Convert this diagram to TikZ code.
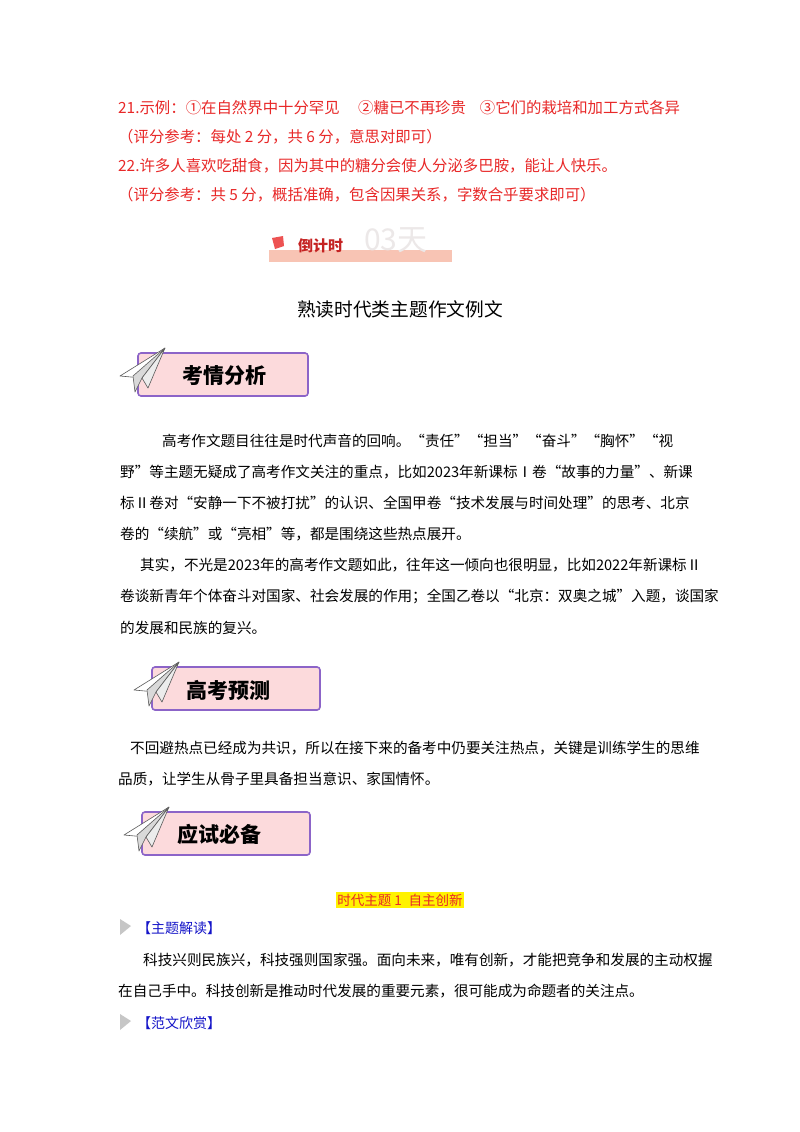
\documentclass[tikz,border=0pt]{standalone}
\usepackage{fontspec}
\setmainfont{Liberation Serif}
\newfontfamily\cjk{Noto Sans CJK SC}
\definecolor{ansred}{RGB}{232,40,40}
\definecolor{boxpink}{RGB}{252,218,220}
\definecolor{boxline}{RGB}{140,100,200}
\definecolor{navy}{RGB}{20,20,200}
\definecolor{peach}{RGB}{248,196,180}
\definecolor{faint}{RGB}{236,232,232}
\tikzset{
  red/.style={anchor=west,inner sep=0,text=ansred,font=\cjk\fontsize{15.4}{16}\selectfont},
  body/.style={anchor=west,inner sep=0,font=\cjk\fontsize{14.6}{15}\selectfont},
  hdrbox/.style={draw=boxline,line width=1.6pt,fill=boxpink,rounded corners=3pt},
  hdrtxt/.style={anchor=west,inner sep=0,font=\cjk\bfseries\fontsize{21}{22}\selectfont},
  plane/.style={fill=white,draw=gray!70!black,line width=0.6pt,line join=round}
}
\newcommand{\myplane}[1]{%
  \begin{scope}[shift={#1}]
    \path[plane] (45,0) -- (0,28) -- (22,30) -- cycle;
    \path[plane,fill=gray!30] (45,0) -- (22,30) -- (15,44) -- (13,28) -- cycle;
    \path[plane,fill=gray!15] (45,0) -- (28,40) -- (22,30) -- cycle;
  \end{scope}}
\begin{document}
\begin{tikzpicture}[x=1pt,y=-1pt]
\useasboundingbox (0,0) rectangle (800,1132);
\fill[white] (0,0) rectangle (800,1132);
% red answers
\node[red] (r1) at (118,108) {21.示例：①在自然界中十分罕见\hspace{1.2em}②糖已不再珍贵\hspace{0.9em}③它们的栽培和加工方式各异};
\node[red] (r2) at (118,137) {（评分参考：每处 2 分，共 6 分，意思对即可）};
\node[red] (r3) at (118,166) {22.许多人喜欢吃甜食，因为其中的糖分会使人分泌多巴胺，能让人快乐。};
\node[red] (r4) at (118,195) {（评分参考：共 5 分，概括准确，包含因果关系，字数合乎要求即可）};
% countdown banner
\fill[peach] (269,250) rectangle (452,262);
\fill[ansred!80] (272,238) -- (283,236) -- (284,246) -- (275,249) -- cycle;
\node[anchor=west,inner sep=0,text=ansred!85!black,font=\cjk\bfseries\fontsize{15}{15}\selectfont] (cd) at (298,246) {倒计时};
\node[anchor=west,inner sep=0,text=faint,font=\cjk\fontsize{30}{30}\selectfont] (cd2) at (364,240) {03天};
% title
\node[inner sep=0,font=\cjk\fontsize{18.7}{19}\selectfont] (title) at (400,309) {熟读时代类主题作文例文};
% header 1
\draw[hdrbox] (138,353) rectangle (308,396);
\myplane{(120,348)}
\node[hdrtxt] (h1) at (182,376) {考情分析};
\node[body] (p1) at (162,441) {高考作文题目往往是时代声音的回响。“责任”“担当”“奋斗”“胸怀”“视};
\node[body] (p2) at (120,472) {野”等主题无疑成了高考作文关注的重点，比如2023年新课标Ⅰ卷“故事的力量”、新课};
\node[body] (p3) at (120,503) {标Ⅱ卷对“安静一下不被打扰”的认识、全国甲卷“技术发展与时间处理”的思考、北京};
\node[body] (p4) at (120,534) {卷的“续航”或“亮相”等，都是围绕这些热点展开。};
\node[body] (p5) at (140,565) {其实，不光是2023年的高考作文题如此，往年这一倾向也很明显，比如2022年新课标Ⅱ};
\node[body] (p6) at (120,596) {卷谈新青年个体奋斗对国家、社会发展的作用；全国乙卷以“北京：双奥之城”入题，谈国家};
\node[body] (p7) at (120,628) {的发展和民族的复兴。};
% header 2
\draw[hdrbox] (152,667) rectangle (320,710);
\myplane{(134,662)}
\node[hdrtxt] (h2) at (186,690) {高考预测};
\node[body] (p8) at (130,748) {不回避热点已经成为共识，所以在接下来的备考中仍要关注热点，关键是训练学生的思维};
\node[body] (p9) at (118,779) {品质，让学生从骨子里具备担当意识、家国情怀。};
% header 3
\draw[hdrbox] (142,812) rectangle (310,855);
\myplane{(124,807)}
\node[hdrtxt] (h3) at (177,834) {应试必备};
% theme
\node[fill=yellow,inner xsep=1pt,inner ysep=2pt,text=ansred,font=\cjk\fontsize{13.5}{14}\selectfont] (theme) at (400,900) {时代主题 1\hspace{0.5em}自主创新};
\fill[gray!45] (120,919) -- (131,926) -- (120,935) -- cycle;
\node[anchor=west,inner sep=0,text=navy,font=\cjk\fontsize{14}{15}\selectfont] (s1) at (137,928) {【主题解读】};
\node[body] (p10) at (143,960) {科技兴则民族兴，科技强则国家强。面向未来，唯有创新，才能把竞争和发展的主动权握};
\node[body] (p11) at (118,991) {在自己手中。科技创新是推动时代发展的重要元素，很可能成为命题者的关注点。};
\fill[gray!45] (120,1014) -- (131,1021) -- (120,1030) -- cycle;
\node[anchor=west,inner sep=0,text=navy,font=\cjk\fontsize{14}{15}\selectfont] (s2) at (137,1023) {【范文欣赏】};
\end{tikzpicture}
\end{document}
